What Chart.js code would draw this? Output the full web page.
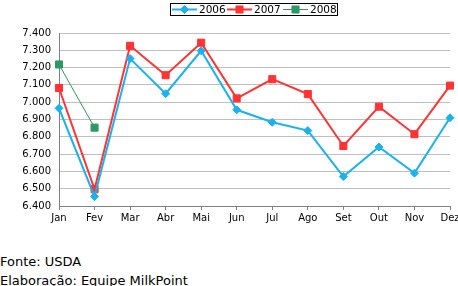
<!DOCTYPE html>
<html>
<head>
<meta charset="utf-8">
<script src="https://cdn.jsdelivr.net/npm/chart.js@4/dist/chart.umd.min.js"></script>
<style>
  body { margin: 0; background: #fff; }
  #wrap { width: 458px; height: 240px; position: relative; }
  .foot { font-family: "DejaVu Sans", Verdana, sans-serif; font-size: 13px; line-height: 15px; color: #000; position: absolute; left: 0; }
</style>
</head>
<body>
<div id="wrap"><canvas id="chart" width="458" height="240"></canvas></div>
<div class="foot" style="top:254px">Fonte: USDA</div>
<div class="foot" style="top:273px">Elaboração: Equipe MilkPoint</div>
<script>
const months = ['Jan', 'Fev', 'Mar', 'Abr', 'Mai', 'Jun', 'Jul', 'Ago', 'Set', 'Out', 'Nov', 'Dez'];
const values2006 = [6965, 6455, 7252, 7049, 7297, 6956, 6884, 6836, 6570, 6741, 6590, 6910];
const values2007 = [7082, 6497, 7326, 7156, 7344, 7022, 7133, 7047, 6747, 6974, 6815, 7096];
const values2008 = [7218, 6853];
const yTicks = [6400, 6500, 6600, 6700, 6800, 6900, 7000, 7100, 7200, 7300, 7400];

const fmt = v => {
    const s = String(Math.round(v));
    return s.slice(0, s.length - 3) + '.' + s.slice(-3);
};

// legend with a line + marker per series, inside a black box
const boxLegend = {
    id: 'boxLegend',
    afterDraw(chart) {
        const ctx = chart.ctx;
        ctx.save();
        ctx.strokeStyle = '#000';
        ctx.lineWidth = 1;
        ctx.strokeRect(170.5, 3.5, 167, 12);
        const starts = [172, 227, 283];
        ctx.font = '10.5px "DejaVu Sans", Verdana, sans-serif';
        ctx.textBaseline = 'middle';
        chart.data.datasets.forEach((ds, i) => {
            const x = starts[i];
            const y = 9.5;
            ctx.strokeStyle = ds.borderColor;
            ctx.lineWidth = ds.borderWidth;
            ctx.beginPath();
            ctx.moveTo(x, y);
            ctx.lineTo(x + 25, y);
            ctx.stroke();
            ctx.fillStyle = ds.backgroundColor;
            ctx.strokeStyle = ds.borderColor;
            ctx.lineWidth = 1;
            Chart.helpers.drawPoint(ctx, {
                pointStyle: ds.pointStyle,
                radius: ds.pointRadius,
                borderWidth: 1
            }, x + 12.5, y);
            ctx.fillStyle = '#000';
            ctx.fillText(ds.label, x + 27, y + 0.5);
        });
        ctx.restore();
    }
};

const mk = (label, data, color, width, style, radius) => ({
    label: label,
    data: data,
    borderColor: color,
    backgroundColor: color,
    borderWidth: width,
    pointStyle: style,
    pointRadius: radius,
    pointHoverRadius: radius,
    pointBorderWidth: 1,
    fill: false,
    tension: 0
});

Chart.defaults.font.family = '"DejaVu Sans", Verdana, sans-serif';
Chart.defaults.color = '#000';

new Chart(document.getElementById('chart').getContext('2d'), {
    type: 'line',
    data: {
        labels: months,
        datasets: [
            mk('2006', values2006, '#1ab2ee', 2, 'rectRot', 4),
            mk('2007', values2007, '#ff3333', 2, 'rect', 5),
            mk('2008', values2008, '#2e9966', 1, 'rect', 5)
        ]
    },
    options: {
        responsive: false,
        animation: false,
        layout: { padding: { top: 33, right: 8, left: 0, bottom: 0 } },
        plugins: { legend: { display: false }, tooltip: { enabled: false } },
        scales: {
            x: {
                offset: false,
                grid: { display: true, drawOnChartArea: false, color: '#808080', tickLength: 4 },
                border: { color: '#808080' },
                ticks: { font: { size: 10 }, padding: 2, maxRotation: 0, autoSkip: false },
                afterFit(scale) { scale.height = 34; scale.paddingLeft = 0; scale.paddingRight = 0; }
            },
            y: {
                min: 6400,
                max: 7400,
                afterBuildTicks(scale) { scale.ticks = yTicks.map(v => ({ value: v })); },
                grid: { color: '#c0c0c0', drawTicks: false },
                border: { color: '#808080' },
                ticks: { font: { size: 10 }, padding: 8, callback: v => fmt(v) },
                afterFit(scale) { scale.width = 59; }
            }
        }
    },
    plugins: [boxLegend]
});
</script>
</body>
</html>
